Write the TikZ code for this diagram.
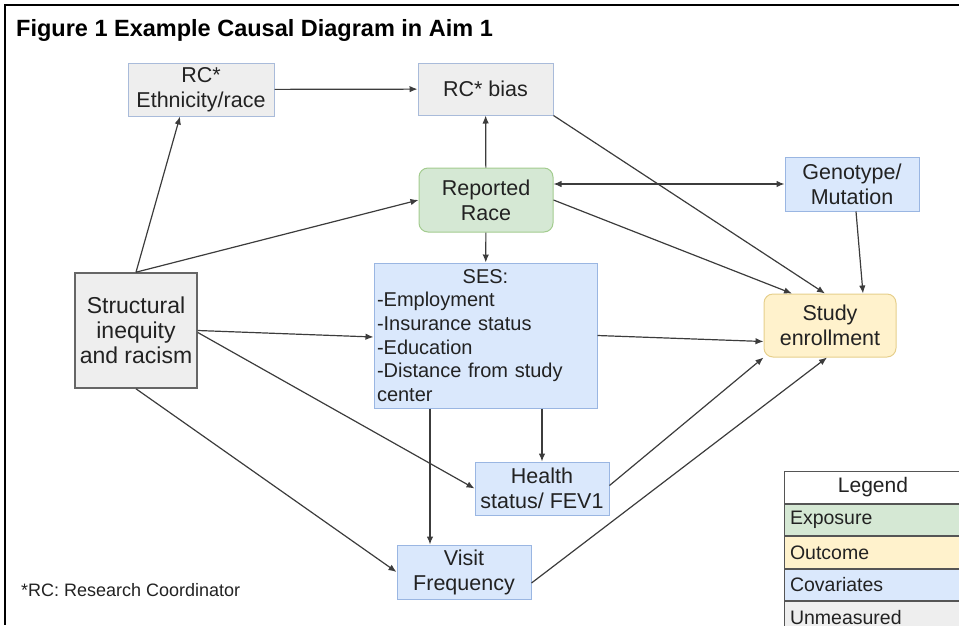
\documentclass[tikz,border=0pt]{standalone}
\usepackage{fontspec}
\setmainfont{Liberation Sans}
\usepackage{xcolor}
\usepackage{tikz}
\usetikzlibrary{arrows.meta,positioning}

\definecolor{unmfill}{HTML}{EEEEEE}
\definecolor{unmline}{HTML}{A9BBDA}
\definecolor{structline}{HTML}{666666}
\definecolor{covfill}{HTML}{DAE8FC}
\definecolor{covline}{HTML}{9AB6E2}
\definecolor{expfill}{HTML}{D5E8D4}
\definecolor{expline}{HTML}{A3CC8F}
\definecolor{outcfill}{HTML}{FFF2CC}
\definecolor{outcline}{HTML}{E6CF8C}
\definecolor{edgegray}{HTML}{3C3C3C}
\definecolor{legline}{HTML}{555555}
\definecolor{txt}{HTML}{222222}

\begin{document}
\begin{tikzpicture}[x=1pt,y=-1pt,
  every node/.style={font=\fontsize{21.5}{25}\selectfont,align=center,inner sep=2pt,text=txt},
  box/.style={draw=covline,fill=covfill,line width=1pt,minimum height=53pt},
  unm/.style={box,draw=unmline,fill=unmfill},
  expo/.style={box,draw=expline,fill=expfill,rounded corners=9pt},
  outc/.style={box,draw=outcline,fill=outcfill,rounded corners=9pt},
  arr/.style={-{Latex[length=8pt,width=6.5pt]},line width=1.2pt,draw=edgegray},
  arrboth/.style={arr,{Latex[length=8pt,width=6.5pt]}-{Latex[length=8pt,width=6.5pt]}},
  leg/.style={draw=legline,line width=1pt,minimum width=178pt,minimum height=31.5pt,
    inner xsep=6pt,text width=166pt,align=left,font=\fontsize{19.5}{22}\selectfont}]
  \useasboundingbox (0,0) rectangle (959,625);
  \draw[line width=2pt] (959,5) -- (5,5) -- (5,625);

  \node[anchor=base west,font=\bfseries\fontsize{23.5}{28}\selectfont,text=black] (title) at (14,36)
    {Figure 1 Example Causal Diagram in Aim 1};

  % nodes
  \node[unm,minimum width=146pt] (rceth) at (201,89.5) {RC*\\Ethnicity/race};
  \node[unm,minimum width=135pt,minimum height=52pt] (rcbias) at (485.5,89) {RC* bias};
  \node[expo,minimum width=134pt,minimum height=64pt] (race) at (486,200) {Reported\\Race};
  \node[box,minimum width=134pt,minimum height=54pt] (geno) at (852,184) {Genotype/\\Mutation};
  \node[unm,draw=structline,line width=1.6pt,minimum width=122pt,minimum height=115pt,
    font=\fontsize{23}{25}\selectfont] (struct) at (136,330.5) {Structural\\inequity\\and racism};
  \node[box,minimum height=145pt,text width=217pt,inner xsep=3pt,align=left,
    font=\fontsize{20}{23.7}\selectfont] (ses) at (485.5,335.5)
    {\makebox[217pt]{SES:}\\-Employment\\-Insurance status\\-Education\\-Distance from study\\center};
  \node[outc,minimum width=132pt,minimum height=63pt] (study) at (830,325.5) {Study\\enrollment};
  \node[box,minimum width=134pt,minimum height=53pt] (health) at (542,488.5) {Health\\status/ FEV1};
  \node[box,minimum width=134pt,minimum height=54pt] (visit) at (464,572) {Visit\\Frequency};

  % legend
  \node[leg,align=center,fill=white,font=\fontsize{21}{24}\selectfont] (legend) at (873,487.5) {Legend};
  \node[leg,fill=expfill,below=0pt of legend] (lexp) {Exposure};
  \node[leg,fill=outcfill,below=0pt of lexp] (loutc) {Outcome};
  \node[leg,fill=covfill,below=0pt of loutc] (lcov) {Covariates};
  \node[leg,fill=unmfill,below=0pt of lcov] (lunm) {Unmeasured};

  \node[anchor=west,font=\fontsize{18}{20}\selectfont] (note) at (19,590) {*RC: Research Coordinator};

  % edges
  \draw[arr] (rceth) -- (rcbias);
  \draw[arr] (struct.north) -- ([xshift=-21pt]rceth.south);
  \draw[arr] (struct.north) -- (race.west);
  \draw[arr] (struct.east) -- ([yshift=-1.5pt]ses.west);
  \draw[arr] ([yshift=-2pt]struct.east) -- (health.west);
  \draw[arr] (struct.south) -- (visit.west);
  \draw[arr] (race) -- (rcbias);
  \draw[arrboth] (race.east |- geno.west) -- (geno.west);
  \draw[arr] (race.east) -- ([xshift=-38pt]study.north);
  \draw[arr] (rcbias.south east) -- ([xshift=-5pt]study.north);
  \draw[arr] ([xshift=4pt]geno.south) -- ([xshift=33pt]study.north);
  \draw[arr] (race) -- (ses);
  \draw[arr] (ses.east) -- ([yshift=-16pt]study.west);
  \draw[arr] (ses.south -| health.north) -- (health.north);
  \draw[arr] ([xshift=-34pt]visit.north |- ses.south) -- ([xshift=-34pt]visit.north);
  \draw[arr] ([yshift=3pt]health.east) -- (study.south west);
  \draw[arr] ([yshift=-11pt]visit.east) -- ([xshift=-3pt]study.south);
\end{tikzpicture}
\end{document}
